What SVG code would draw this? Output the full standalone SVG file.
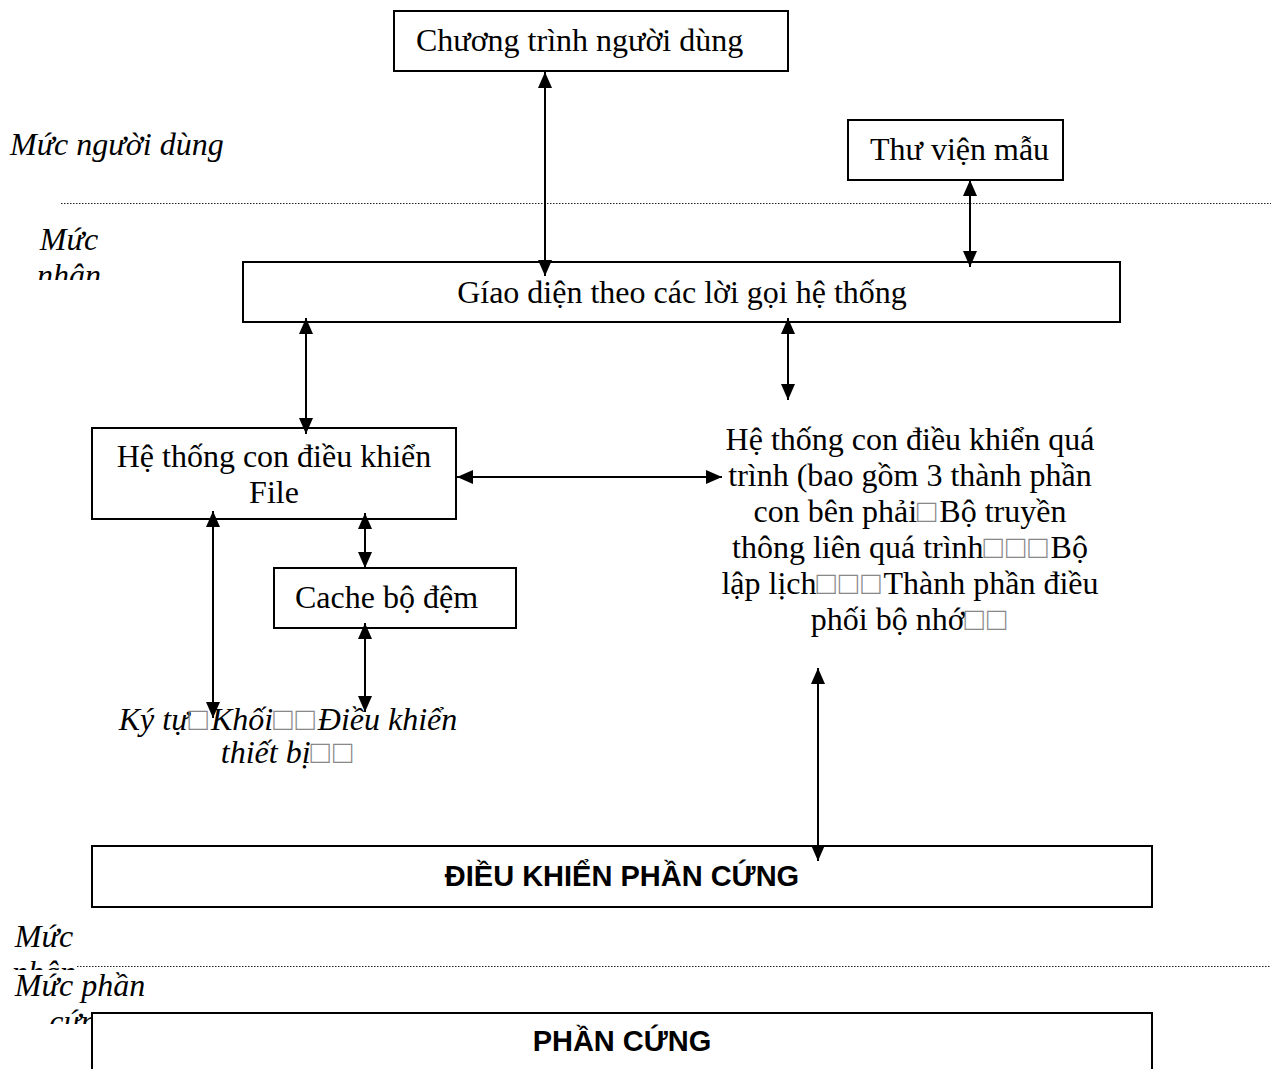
<svg xmlns="http://www.w3.org/2000/svg" width="1271" height="1069" viewBox="0 0 1271 1069">
<style>
  .box { fill: #fff; stroke: #000; stroke-width: 2; }
  .t { font-family: "Liberation Serif", "Times New Roman", serif; font-size: 32px; fill: #000; }
  .it { font-family: "Liberation Serif", "Times New Roman", serif; font-size: 32px; font-style: italic; fill: #000; }
  .b { font-family: "Liberation Sans", Arial, sans-serif; font-size: 29px; font-weight: bold; fill: #000; }
  .c { text-anchor: middle; }
  .sq { fill: #888; font-style: normal; letter-spacing: 3px; }
  .dot { stroke: #222; stroke-width: 1; stroke-dasharray: 1.5 1.5; fill: none; }
  .ar { stroke: #000; stroke-width: 2; fill: none; marker-start: url(#ah); marker-end: url(#ah); }
</style>
<defs>
  <marker id="ah" markerUnits="userSpaceOnUse" markerWidth="17" markerHeight="15" refX="16" refY="7" orient="auto-start-reverse">
    <path d="M0,0 L16,7 L0,14 z" fill="#000"/>
  </marker>
  <clipPath id="clipK1"><rect x="0" y="200" width="200" height="80"/></clipPath>
  <clipPath id="clipK2"><rect x="0" y="910" width="200" height="60"/></clipPath>
  <clipPath id="clipH"><rect x="0" y="970" width="200" height="54"/></clipPath>
</defs>
<rect width="1271" height="1069" fill="#fff"/>

<g id="levels">
  <line class="dot" x1="61" y1="203.5" x2="1271" y2="203.5"/>
  <line class="dot" x1="77" y1="966.5" x2="1271" y2="966.5"/>
  <text class="it" x="10" y="155">Mức người dùng</text>
  <g clip-path="url(#clipK1)">
    <text class="it c" x="69" y="250">Mức</text>
    <text class="it c" x="69" y="286">nhân</text>
  </g>
  <g clip-path="url(#clipK2)">
    <text class="it c" x="44" y="947">Mức</text>
    <text class="it c" x="44" y="983">nhân</text>
  </g>
  <g clip-path="url(#clipH)">
    <text class="it c" x="80" y="996">Mức phần</text>
    <text class="it c" x="81" y="1032">cứng</text>
  </g>
</g>

<g id="user-program">
  <rect class="box" x="394" y="11" width="394" height="60"/>
  <text class="t" x="416" y="51">Chương trình người dùng</text>
</g>

<g id="template-lib">
  <rect class="box" x="848" y="120" width="215" height="60"/>
  <text class="t" x="870" y="160">Thư viện mẫu</text>
</g>

<g id="syscall-interface">
  <rect class="box" x="243" y="262" width="877" height="60"/>
  <text class="t c" x="682" y="303">Gíao diện theo các lời gọi hệ thống</text>
</g>

<g id="file-subsystem">
  <rect class="box" x="92" y="428" width="364" height="91"/>
  <text class="t c" x="274" y="467">Hệ thống con điều khiển</text>
  <text class="t c" x="274" y="503">File</text>
</g>

<g id="cache">
  <rect class="box" x="274" y="568" width="242" height="60"/>
  <text class="t" x="295" y="608">Cache bộ đệm</text>
</g>

<g id="process-subsystem">
  <text class="t c" x="910" y="450">Hệ thống con điều khiển quá</text>
  <text class="t c" x="910" y="486">trình (bao gồm 3 thành phần</text>
  <text class="t c" x="910" y="522">con bên phải<tspan class="sq">□</tspan>Bộ truyền</text>
  <text class="t c" x="910" y="558">thông liên quá trình<tspan class="sq">□□□</tspan>Bộ</text>
  <text class="t c" x="910" y="594">lập lịch<tspan class="sq">□□□</tspan>Thành phần điều</text>
  <text class="t c" x="910" y="630">phối bộ nhớ<tspan class="sq">□□</tspan></text>
</g>

<g id="device-drivers">
  <text class="it c" x="288" y="730">Ký tự<tspan class="sq">□</tspan>Khối<tspan class="sq">□□</tspan>Điều khiển</text>
  <text class="it c" x="288" y="763">thiết bị<tspan class="sq">□□</tspan></text>
</g>

<g id="hw-control">
  <rect class="box" x="92" y="846" width="1060" height="61"/>
  <text class="b c" x="622" y="886">ĐIỀU KHIỂN PHẦN CỨNG</text>
</g>

<g id="hardware">
  <rect class="box" x="92" y="1013" width="1060" height="70"/>
  <text class="b c" x="622" y="1051">PHẦN CỨNG</text>
</g>

<g id="connectors">
  <line class="ar" x1="545" y1="72" x2="545" y2="276"/>
  <line class="ar" x1="970" y1="180" x2="970" y2="267"/>
  <line class="ar" x1="306" y1="318" x2="306" y2="434"/>
  <line class="ar" x1="788" y1="318" x2="788" y2="400"/>
  <line class="ar" x1="457" y1="477" x2="722" y2="477"/>
  <line class="ar" x1="365" y1="513" x2="365" y2="568"/>
  <line class="ar" x1="213" y1="511" x2="213" y2="718"/>
  <line class="ar" x1="365" y1="623" x2="365" y2="712"/>
  <line class="ar" x1="818" y1="668" x2="818" y2="861"/>
</g>
</svg>
